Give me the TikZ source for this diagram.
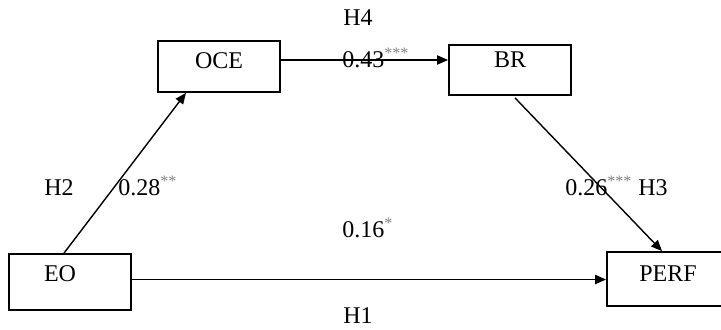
\documentclass[tikz,border=0pt]{standalone}
\usepackage{fontspec}
\setmainfont{Liberation Serif}
\usepackage{xcolor}
\usepackage{tikz}
\usetikzlibrary{arrows.meta,positioning,calc}
\tikzset{
  varbox/.style={draw,line width=0.9pt,minimum width=61pt,inner sep=0pt,
    font=\fontsize{12}{14}\selectfont},
  patharrow/.style={-{Triangle[length=5.5pt,width=4.6pt]},line width=0.7pt},
  pathlabel/.style={anchor=base west,inner sep=0pt,font=\fontsize{12}{14}\selectfont}
}
\newcommand{\sigstars}[1]{\textsuperscript{\raisebox{0.6pt}{\textcolor{black!50}{#1}}}}

\begin{document}
\begin{tikzpicture}[x=0.5pt,y=-0.5pt]
  \useasboundingbox (0,0) rectangle (721,330);
  % constructs
  \node[varbox,text height=14pt,text depth=11.5pt] (OCE) at (219,66.5) {OCE};
  \node[varbox,text height=11.5pt,text depth=13.5pt] (BR) at (510,70) {BR};
  \node[varbox,text height=14pt,text depth=14pt] (EO) at (70,282) {\makebox[26pt][l]{EO}};
  \node[varbox,text height=15pt,text depth=12pt] (PERF) at (668,279) {PERF};
  % paths
  \coordinate (oce out) at ([yshift=3.25pt]OCE.east);
  \coordinate (eo out) at ([yshift=1.25pt]EO.east);
  \draw[patharrow] (oce out) -- (oce out -| BR.west);
  \draw[patharrow] ([xshift=-3pt]EO.north) -- ([xshift=-16.5pt]OCE.south);
  \draw[patharrow] ([xshift=2.5pt,yshift=-1pt]BR.south) -- ([xshift=-3pt]PERF.north);
  \draw[patharrow] (eo out) -- (eo out -| PERF.west);
  % hypotheses and coefficients
  \node[pathlabel] (h4) at (343,26) {H4};
  \node[pathlabel] (b43) at (342,68) {0.43\sigstars{***}};
  \node[pathlabel] (h2) at (44,196) {H2};
  \node[pathlabel] (b28) at (118,196) {0.28\sigstars{**}};
  \node[pathlabel] (b16) at (342,238) {0.16\sigstars{*}};
  \node[pathlabel] (b26) at (565,196) {0.26\sigstars{***} H3};
  \node[pathlabel] (h1) at (343,324) {H1};
\end{tikzpicture}
\end{document}
